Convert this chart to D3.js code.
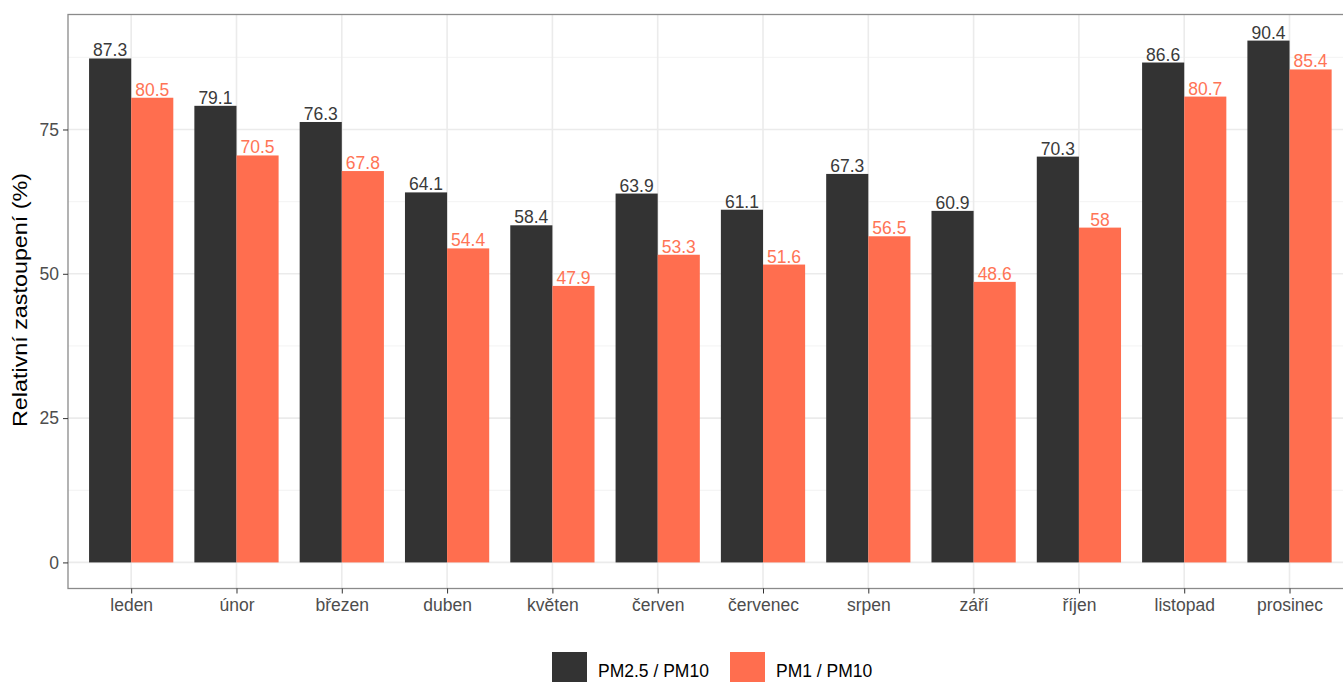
<!DOCTYPE html>
<html>
<head>
<meta charset="utf-8">
<script src="https://cdn.jsdelivr.net/npm/d3@7"></script>
<style>
  html, body { margin: 0; padding: 0; background: #fff; }
  svg { display: block; font-family: "Liberation Sans", Arial, sans-serif; }
</style>
</head>
<body>
<svg id="chart" width="1343" height="682"></svg>
<script>
const months = ["leden","únor","březen","duben","květen","červen","červenec","srpen","září","říjen","listopad","prosinec"];
const pm25 = [87.3, 79.1, 76.3, 64.1, 58.4, 63.9, 61.1, 67.3, 60.9, 70.3, 86.6, 90.4];
const pm1  = [80.5, 70.5, 67.8, 54.4, 47.9, 53.3, 51.6, 56.5, 48.6, 58, 80.7, 85.4];
const seriesNames = ["PM2.5 / PM10", "PM1 / PM10"];
const seriesColors = ["#333333", "#FF6E4F"];
const yTicks = [0, 25, 50, 75];
const yMinor = [12.5, 37.5, 62.5, 87.5];
const yTitle = "Relativní zastoupení (%)";

const svg = d3.select("#chart");
const P = {left: 68, top: 14.5, right: 1352.7, bottom: 588.5};

const maxV = d3.max(pm25.concat(pm1));
const x = d3.scalePoint().domain(months).range([P.left, P.right]).padding(0.6);
const step = x.step();
const y = d3.scaleLinear().domain([-0.05 * maxV, maxV * 1.05]).range([P.bottom, P.top]);
const barW = step * 0.8 / 2;

// grid
const g = svg.append("g");
g.selectAll(".ymin").data(yMinor).join("line")
  .attr("x1", P.left).attr("x2", P.right).attr("y1", d => y(d)).attr("y2", d => y(d))
  .attr("stroke", "#F0F0F0").attr("stroke-width", 0.8);
g.selectAll(".ymaj").data(yTicks).join("line")
  .attr("x1", P.left).attr("x2", P.right).attr("y1", d => y(d)).attr("y2", d => y(d))
  .attr("stroke", "#EBEBEB").attr("stroke-width", 1.6);
g.selectAll(".xmaj").data(months).join("line")
  .attr("x1", d => x(d)).attr("x2", d => x(d)).attr("y1", P.top).attr("y2", P.bottom)
  .attr("stroke", "#EBEBEB").attr("stroke-width", 1.6);

// bars
const series = [pm25, pm1];
series.forEach((vals, si) => {
  const data = months.map((m, i) => ({m, v: vals[i]}));
  const off = si === 0 ? -barW : 0;
  svg.append("g").selectAll("rect").data(data).join("rect")
    .attr("x", d => x(d.m) + off)
    .attr("width", barW)
    .attr("y", d => y(d.v))
    .attr("height", d => y(0) - y(d.v))
    .attr("fill", seriesColors[si]);
  svg.append("g").selectAll("text").data(data).join("text")
    .attr("x", d => x(d.m) + off + barW / 2)
    .attr("y", d => y(d.v) - 2)
    .attr("text-anchor", "middle")
    .attr("font-size", 17.5)
    .attr("fill", si === 0 ? "#3a3a3a" : "#FF7456")
    .text(d => d.v);
});

// panel border
svg.append("rect")
  .attr("x", P.left).attr("y", P.top)
  .attr("width", P.right - P.left).attr("height", P.bottom - P.top)
  .attr("fill", "none").attr("stroke", "#8a8a8a").attr("stroke-width", 1.3);

// y axis
const yAxis = svg.append("g").attr("transform", `translate(${P.left},0)`)
  .call(d3.axisLeft(y).tickValues(yTicks).tickSize(5).tickPadding(4).tickFormat(d3.format("d")));
yAxis.select(".domain").remove();
yAxis.selectAll(".tick line").attr("stroke", "#333");
yAxis.selectAll(".tick text").attr("font-size", 17.5).attr("fill", "#4D4D4D")
  .attr("font-family", "Liberation Sans, Arial, sans-serif");

// x axis
const xAxis = svg.append("g").attr("transform", `translate(0,${P.bottom})`)
  .call(d3.axisBottom(x).tickSize(5).tickPadding(5));
xAxis.select(".domain").remove();
xAxis.selectAll(".tick line").attr("stroke", "#333");
xAxis.selectAll(".tick text").attr("font-size", 17.5).attr("fill", "#4D4D4D")
  .attr("font-family", "Liberation Sans, Arial, sans-serif");

// y title
svg.append("text")
  .attr("transform", `translate(27,300) rotate(-90)`)
  .attr("text-anchor", "middle")
  .attr("font-size", 21)
  .attr("textLength", 254)
  .attr("lengthAdjust", "spacingAndGlyphs")
  .attr("fill", "#000")
  .text(yTitle);

// legend
const leg = svg.append("g");
const keyX = [552, 730];
seriesNames.forEach((name, i) => {
  leg.append("rect").attr("x", keyX[i]).attr("y", 652).attr("width", 35).attr("height", 35)
    .attr("fill", seriesColors[i]);
  leg.append("text").attr("x", keyX[i] + 46).attr("y", 677)
    .attr("font-size", 17.5).attr("fill", "#000").text(name);
});
</script>
</body>
</html>
